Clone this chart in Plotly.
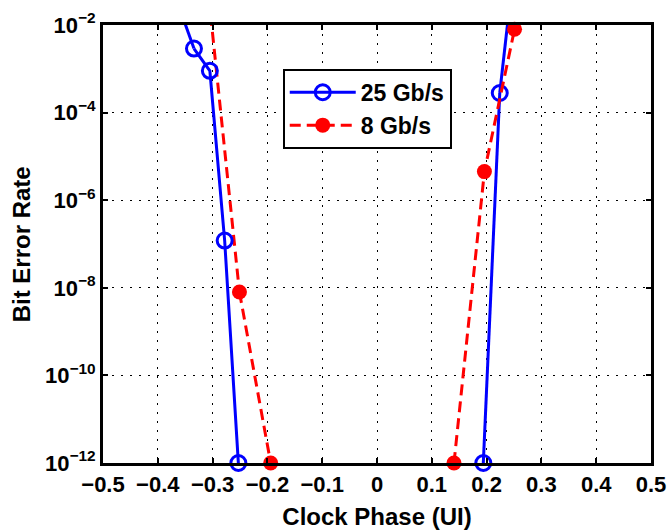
import plotly.graph_objects as go

# Measured BER bathtub points (clock phase in UI, bit error rate)
# 25 Gb/s, left and right edges of the bathtub
phase_25g_left = [-0.334, -0.305, -0.278, -0.253]
ber_25g_left = [2.9e-3, 9e-4, 1.2e-7, 1e-12]
phase_25g_right = [0.194, 0.224]
ber_25g_right = [1e-12, 2.8e-4]
# measurements beyond the plotted BER range (curve continues off the top)
phase_25g_left_ext = [-0.378, -0.334]
ber_25g_left_ext = [1e-1, 2.9e-3]
phase_25g_right_ext = [0.224, 0.247]
ber_25g_right_ext = [2.8e-4, 1e-1]

# 8 Gb/s
phase_8g_left = [-0.251, -0.194]
ber_8g_left = [8e-9, 1e-12]
phase_8g_right = [0.1405, 0.196, 0.251]
ber_8g_right = [1e-12, 4.5e-6, 8e-3]
phase_8g_left_ext = [-0.310, -0.251]
ber_8g_left_ext = [1e-1, 8e-9]

x_ticks = [-0.5, -0.4, -0.3, -0.2, -0.1, 0, 0.1, 0.2, 0.3, 0.4, 0.5]
x_tick_text = ["\u22120.5", "\u22120.4", "\u22120.3", "\u22120.2", "\u22120.1",
               "0", "0.1", "0.2", "0.3", "0.4", "0.5"]
y_exps = [-12, -10, -8, -6, -4, -2]
y_ticks = [10.0 ** e for e in y_exps]
y_tick_text = ["10<sup>\u2212%d</sup>" % (-e) for e in y_exps]

BLUE = "#0000ff"
RED = "#ff0000"
FONT = "Liberation Sans"
RED_DASH = "11px,6px"

fig = go.Figure()

# off-range extensions (lines only, clipped to the plot area)
for xs, ys, color, dash in [
    (phase_25g_left_ext, ber_25g_left_ext, BLUE, "solid"),
    (phase_25g_right_ext, ber_25g_right_ext, BLUE, "solid"),
    (phase_8g_left_ext, ber_8g_left_ext, RED, RED_DASH),
]:
    fig.add_trace(go.Scatter(x=xs, y=ys, mode="lines", showlegend=False,
                             line=dict(color=color, width=3, dash=dash),
                             hoverinfo="skip"))

blue_marker = dict(symbol="circle-open", size=15, color=BLUE, line=dict(width=3))
red_marker = dict(symbol="circle", size=15, color=RED)

for i, (xs, ys) in enumerate([(phase_25g_left, ber_25g_left),
                              (phase_25g_right, ber_25g_right)]):
    fig.add_trace(go.Scatter(
        x=xs, y=ys, mode="lines+markers", name="25 Gb/s",
        legendgroup="25g", showlegend=(i == 0),
        line=dict(color=BLUE, width=3), marker=blue_marker,
        cliponaxis=False,
    ))
for i, (xs, ys) in enumerate([(phase_8g_left, ber_8g_left),
                              (phase_8g_right, ber_8g_right)]):
    fig.add_trace(go.Scatter(
        x=xs, y=ys, mode="lines+markers", name="8 Gb/s",
        legendgroup="8g", showlegend=(i == 0),
        line=dict(color=RED, width=3, dash=RED_DASH), marker=red_marker,
        cliponaxis=False,
    ))

axis_common = dict(
    showline=True, linecolor="black", linewidth=3, mirror="ticks",
    ticks="inside", ticklen=5, tickwidth=2, tickcolor="black",
    showgrid=True, gridcolor="black", gridwidth=1, griddash="2px,7px",
    zeroline=False, automargin=False,
)

fig.update_xaxes(
    range=[-0.5, 0.5], tickvals=x_ticks, ticktext=x_tick_text,
    tickfont=dict(family=FONT, size=22, color="black", weight="bold"),
    title=dict(text="Clock Phase (UI)",
               font=dict(family=FONT, size=24, color="black", weight="bold")),
    **axis_common,
)
fig.update_yaxes(
    type="log", range=[-12, -2], tickvals=y_ticks, ticktext=y_tick_text,
    tickfont=dict(family=FONT, size=22, color="black", weight="bold"),
    **axis_common,
)

# vertical axis title, placed in the left margin
fig.add_annotation(
    text="Bit Error Rate", textangle=-90, showarrow=False,
    xref="paper", yref="paper", x=-0.149, y=0.5,
    xanchor="center", yanchor="middle",
    font=dict(family=FONT, size=24, color="black", weight="bold"),
)

fig.update_layout(
    width=671, height=530,
    margin=dict(l=103, r=20, t=25, b=67),
    paper_bgcolor="white", plot_bgcolor="white",
    showlegend=True,
    legend=dict(
        x=0.328, y=0.90, xanchor="left", yanchor="top",
        bgcolor="white", bordercolor="black", borderwidth=2,
        font=dict(family=FONT, size=23, color="black", weight="bold"),
        itemwidth=66, tracegroupgap=0,
    ),
)

fig.write_html("out.html")
